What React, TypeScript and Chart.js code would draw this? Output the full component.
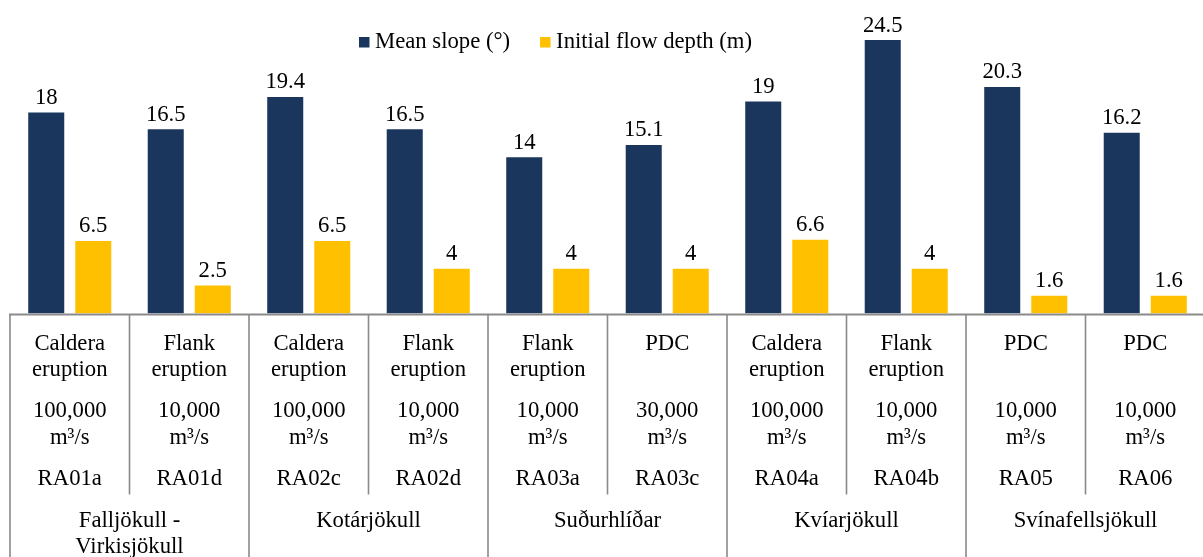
import React, { useEffect, useRef } from 'react';
import { Chart, registerables } from 'chart.js';

Chart.register(...registerables);

const scenarioIds = ['RA01a', 'RA01d', 'RA02c', 'RA02d', 'RA03a', 'RA03c', 'RA04a', 'RA04b', 'RA05', 'RA06'];
const meanSlope = [18, 16.5, 19.4, 16.5, 14, 15.1, 19, 24.5, 20.3, 16.2];
const flowDepth = [6.5, 2.5, 6.5, 4, 4, 4, 6.6, 4, 1.6, 1.6];
const eruptionTypes = [
  ['Caldera', 'eruption'], ['Flank', 'eruption'], ['Caldera', 'eruption'], ['Flank', 'eruption'],
  ['Flank', 'eruption'], ['PDC'], ['Caldera', 'eruption'], ['Flank', 'eruption'], ['PDC'], ['PDC'],
];
const discharges = ['100,000', '10,000', '100,000', '10,000', '10,000', '30,000', '100,000', '10,000', '10,000', '10,000'];
const dischargeUnit = 'm³/s';
const glacierNames = [['Falljökull -', 'Virkisjökull'], ['Kotárjökull'], ['Suðurhlíðar'], ['Kvíarjökull'], ['Svínafellsjökull']];
const glacierSpans = [2, 2, 2, 2, 2];
const seriesNames = ['Mean slope (°)', 'Initial flow depth (m)'];
const seriesColors = ['#1B365D', '#FFC000'];

const FONT = '"Liberation Serif", "Times New Roman", serif';
const FS = 22.7;

const tablePlugin = {
  id: 'tablePlugin',
  afterDatasetsDraw(chart: any) {
    const ctx = chart.ctx;
    ctx.save();
    ctx.fillStyle = '#000';
    ctx.font = `${FS}px ${FONT}`;
    ctx.textAlign = 'center';
    ctx.textBaseline = 'alphabetic';
    chart.data.datasets.forEach((ds: any, di: number) => {
      const meta = chart.getDatasetMeta(di);
      meta.data.forEach((el: any, i: number) => {
        ctx.fillText(String(ds.data[i]), el.x, el.y - 8.5);
      });
    });
    ctx.restore();
  },
  afterDraw(chart: any) {
    const ctx = chart.ctx;
    const area = chart.chartArea;
    const xs = chart.scales.x;
    const n = scenarioIds.length;
    const w = xs.getPixelForValue(1) - xs.getPixelForValue(0);
    const left = xs.getPixelForValue(0) - w / 2;
    const y0 = area.bottom + 1;
    const H = chart.height;
    ctx.save();
    // lines
    ctx.strokeStyle = '#8a8a8a';
    ctx.lineWidth = 2;
    ctx.beginPath();
    ctx.moveTo(left - 1, y0);
    ctx.lineTo(chart.width, y0);
    ctx.stroke();
    const groupBounds = new Set<number>();
    let acc = 0;
    groupBounds.add(0);
    glacierSpans.forEach((s) => { acc += s; groupBounds.add(acc); });
    ctx.lineWidth = 1.6;
    for (let i = 0; i <= n; i++) {
      const x = left + i * w;
      ctx.beginPath();
      ctx.moveTo(x, y0);
      ctx.lineTo(x, groupBounds.has(i) ? H : y0 + 180);
      ctx.stroke();
    }
    // texts
    ctx.fillStyle = '#000';
    ctx.font = `${FS}px ${FONT}`;
    ctx.textAlign = 'center';
    ctx.textBaseline = 'alphabetic';
    for (let i = 0; i < n; i++) {
      const cx = xs.getPixelForValue(i);
      eruptionTypes[i].forEach((t, k) => ctx.fillText(t, cx, y0 + 35 + k * 26));
      ctx.fillText(discharges[i], cx, y0 + 102.5);
      ctx.fillText(dischargeUnit, cx, y0 + 129);
      ctx.fillText(scenarioIds[i], cx, y0 + 170.5);
    }
    let start = 0;
    glacierNames.forEach((lines, g) => {
      const span = glacierSpans[g];
      const cx = left + (start + span / 2) * w;
      lines.forEach((t, k) => ctx.fillText(t, cx, y0 + 212 + k * 26));
      start += span;
    });
    // legend
    ctx.textAlign = 'left';
    let lx = 359;
    const sq = 10.5;
    seriesNames.forEach((name, k) => {
      ctx.fillStyle = seriesColors[k];
      ctx.fillRect(lx, 37, sq, sq);
      ctx.fillStyle = '#000';
      ctx.fillText(name, lx + 16, 47.5);
      lx += 16 + ctx.measureText(name).width + 30;
    });
    ctx.restore();
  },
};

export default function App() {
  const ref = useRef<HTMLCanvasElement>(null);
  useEffect(() => {
    if (!ref.current) return;
    const chart = new Chart(ref.current, {
      type: 'bar',
      data: {
        labels: scenarioIds,
        datasets: [
          { label: seriesNames[0], data: meanSlope, backgroundColor: seriesColors[0], borderWidth: 0 },
          { label: seriesNames[1], data: flowDepth, backgroundColor: seriesColors[1], borderWidth: 0 },
        ],
      },
      options: {
        responsive: false,
        animation: false,
        layout: { padding: { left: 10, right: 1, top: 1, bottom: 243.5 } },
        datasets: { bar: { categoryPercentage: 0.787, barPercentage: 0.766 } },
        plugins: { legend: { display: false }, tooltip: { enabled: false } },
        scales: {
          x: { display: false },
          y: { display: false, min: 0, max: 28 },
        },
      },
      plugins: [tablePlugin],
    });
    return () => chart.destroy();
  }, []);
  return (
    <div style={{ position: 'absolute', left: 0, top: 0, width: 1203, height: 557, overflow: 'hidden', background: '#fff' }}>
      <canvas ref={ref} width={1206} height={557} style={{ display: 'block' }} />
    </div>
  );
}
